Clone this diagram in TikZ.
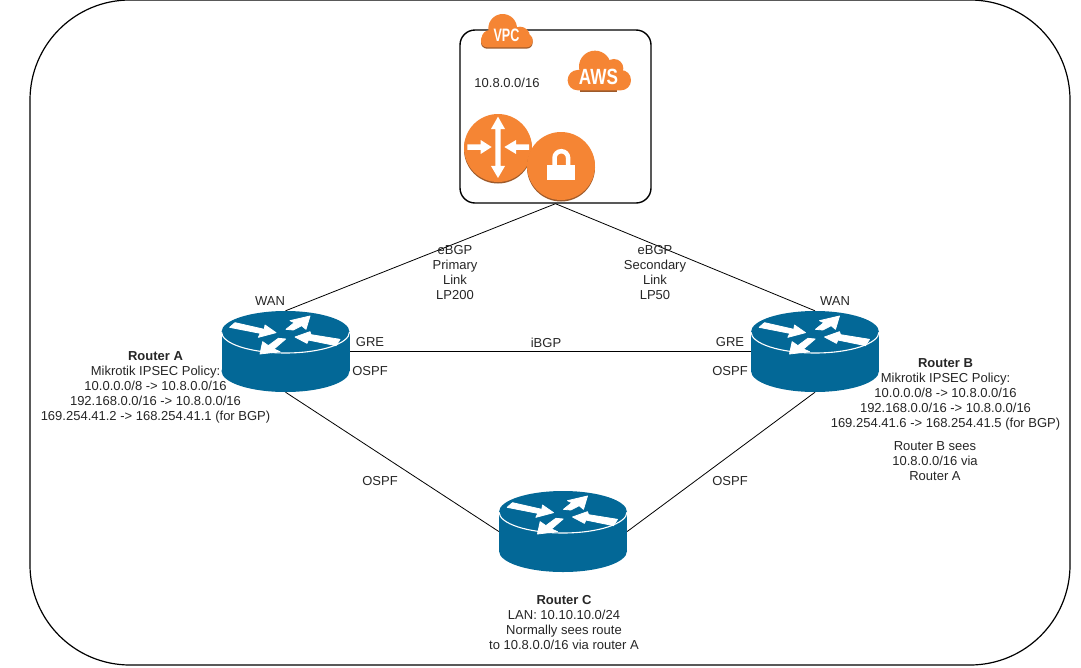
\documentclass[tikz,border=0pt]{standalone}
\usepackage{graphicx}
\usepackage{fontspec}
\setmainfont{Liberation Sans}
\definecolor{rblue}{HTML}{036897}
\definecolor{awso}{HTML}{F58534}
\definecolor{awsd}{HTML}{9E5A2A}
\tikzset{
  lbl/.style={align=center,font=\fontsize{13}{15}\selectfont,inner sep=0pt,text=black!85},
  link/.style={draw=black,line width=0.8pt},
  anchorbox/.style={inner sep=0pt,minimum width=128pt,minimum height=81pt},
  rarrow/.style={fill=white,draw=white,line width=0.8pt,line join=round}
}
\newcommand{\routericon}[2]{%
  \begin{scope}[shift={(#1,#2)}]
    \fill[rblue] (-64,-19.5) rectangle (64,19.5);
    \fill[rblue] (0,19.5) ellipse [x radius=64,y radius=21];
    \fill[rblue] (0,-19.5) ellipse [x radius=64,y radius=21];
    \draw[white,line width=1.1pt] (-64,-19.5) arc[start angle=180,end angle=0,x radius=64,y radius=21];
    \begin{scope}[shift={(-60.5,-41.5)},x=0.3333pt,y=-0.3333pt]
      \path[rarrow] (14,52)--(30,38)--(118,58)--(120,45)--(153,68)--(100,82)--(106,70)--cycle;
      \path[rarrow] (183,58)--(208,38)--(195,32)--(255,18)--(243,58)--(230,47)--(205,60)--cycle;
      \path[rarrow] (345,88)--(333,107)--(250,90)--(246,100)--(210,81)--(255,65)--(258,74)--cycle;
      \path[rarrow] (160,85)--(182,87)--(147,117)--(165,125)--(105,132)--(113,95)--(130,107)--cycle;
    \end{scope}
  \end{scope}}
\begin{document}
\begin{tikzpicture}[x=1pt,y=-1pt]
\useasboundingbox (0,0) rectangle (1081,667);
\fill[white] (0,0) rectangle (1081,667);
% outer frame
\node[draw=black,line width=1.2pt,rounded corners=100pt,minimum width=1040pt,minimum height=665pt,inner sep=0pt] (frame) at (550,332.5) {};
% VPC box
\node[draw=black,line width=1.4pt,rounded corners=15pt,minimum width=191pt,minimum height=173pt,inner sep=0pt] (vpc) at (555.5,116.5) {};
% routers anchors
\node[anchorbox] (ra) at (285.5,351.5) {};
\node[anchorbox] (rb) at (815,351.5) {};
\node[anchorbox] (rc) at (563,531.5) {};
% connectors
\draw[link] (vpc.south) -- (ra.north);
\draw[link] (vpc.south) -- (rb.north);
\draw[link] (ra.east) -- (rb.west);
\draw[link] (ra.south) -- (rc.west);
\draw[link] (rc.east) -- (rb.south);
\routericon{285.5}{351.5}
\routericon{815}{351.5}
\routericon{563}{531.5}
% VPC cloud
\begin{scope}[shift={(470,10)},x=0.3333pt,y=-0.3333pt]
  \begin{scope}[shift={(0,4)}]
    \fill[awsd,rounded corners=6pt] (33,72) rectangle (188,112);
  \end{scope}
  \fill[awso] (98,55) circle[radius=43];
  \fill[awso] (150,80) circle[radius=30];
  \fill[awso] (60,85) circle[radius=25];
  \fill[awso,rounded corners=6pt] (33,72) rectangle (188,112);
\end{scope}
\node[inner sep=0pt,text=white,font=\fontsize{18}{18}\selectfont\bfseries] (vpct) at (506.5,35.5) {\scalebox{0.7}[1]{VPC}};
% AWS cloud
\begin{scope}[shift={(470,10)},x=0.3333pt,y=-0.3333pt]
  \fill[awsd] (330,232) rectangle (440,246);
  \fill[awso] (375,170) circle[radius=48];
  \fill[awso] (432,175) circle[radius=28];
  \fill[awso,rounded corners=10pt] (293,180) rectangle (483,241);
\end{scope}
\node[inner sep=0pt,text=white,font=\fontsize{22}{22}\selectfont\bfseries] (awst) at (598.5,77) {\scalebox{0.78}[1]{AWS}};
% router circle
\fill[awsd] (498,149.5) circle[radius=34];
\fill[awso] (498,148) circle[radius=34];
\begin{scope}[shift={(460,110)},x=0.3333pt,y=-0.3333pt]
  \fill[white] (114,20)--(135,57)--(122,57)--(122,168)--(135,168)--(114,204)--(93,168)--(106,168)--(106,57)--(93,57)--cycle;
  \fill[white] (22,103)--(62,103)--(62,90)--(95,111)--(62,132)--(62,120)--(22,120)--cycle;
  \fill[white] (207,103)--(168,103)--(168,90)--(133,111)--(168,132)--(168,120)--(207,120)--cycle;
\end{scope}
% lock circle
\fill[awsd] (561,167.5) circle[radius=34];
\fill[awso] (561,166) circle[radius=34];
\fill[white] (547.3,165) rectangle (575,180);
\draw[white,line width=4.5pt] (554.5,166) -- (554.5,158) arc[start angle=180,end angle=360,x radius=6.8,y radius=6.8] -- (568.1,166);
% labels
\node[lbl] (l0) at (507,83) {10.8.0.0/16};
\node[lbl] (l1) at (455,272.5) {eBGP\\Primary\\Link\\LP200};
\node[lbl] (l2) at (655,272.5) {eBGP\\Secondary\\Link\\LP50};
\node[lbl] (l3) at (270,301) {WAN};
\node[lbl] (l4) at (835,301) {WAN};
\node[lbl] (l5) at (370,342) {GRE};
\node[lbl] (l6) at (730,342) {GRE};
\node[lbl] (l7) at (546,343) {iBGP};
\node[lbl] (l8) at (370,371) {OSPF};
\node[lbl] (l9) at (730,371) {OSPF};
\node[lbl] (l10) at (380,481) {OSPF};
\node[lbl] (l11) at (730,481) {OSPF};
\node[lbl] (l12) at (155.5,387.5) {\textbf{Router A}\\Mikrotik IPSEC Policy:\\10.0.0.0/8 -> 10.8.0.0/16\\192.168.0.0/16 -> 10.8.0.0/16\\169.254.41.2 -> 168.254.41.1 (for BGP)};
\node[lbl] (l13) at (945.5,394.5) {\textbf{Router B}\\Mikrotik IPSEC Policy:\\10.0.0.0/8 -> 10.8.0.0/16\\192.168.0.0/16 -> 10.8.0.0/16\\169.254.41.6 -> 168.254.41.5 (for BGP)};
\node[lbl] (l14) at (935,461) {Router B sees\\10.8.0.0/16 via\\Router A};
\node[lbl] (l15) at (564,623) {\textbf{Router C}\\LAN: 10.10.10.0/24\\Normally sees route\\to 10.8.0.0/16 via router A};
\end{tikzpicture}
\end{document}
